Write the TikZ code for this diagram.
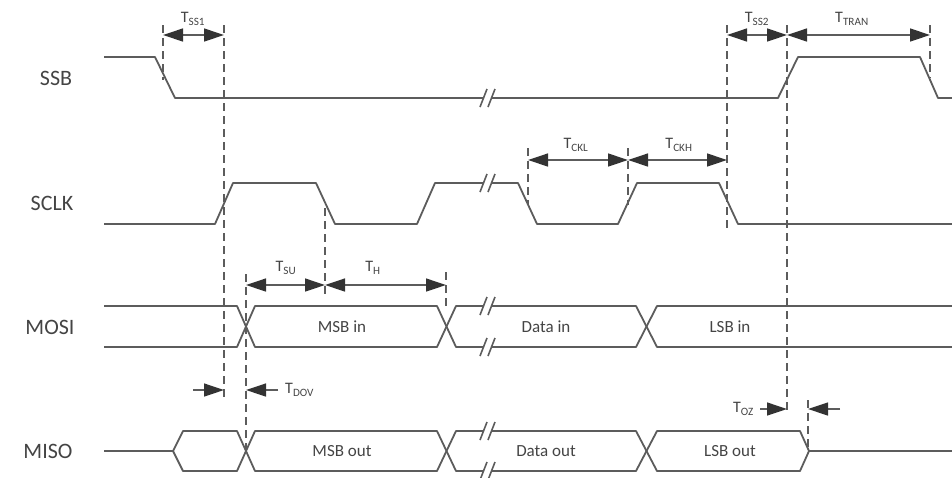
\documentclass[tikz,border=0pt]{standalone}
\usepackage{fontspec}
\setmainfont{Carlito}
\usetikzlibrary{arrows.meta}

\definecolor{linegray}{HTML}{5C5C5C}
\definecolor{tipgray}{HTML}{333333}
\definecolor{txtgray}{HTML}{444444}

% break mark on a line: \brk{x}{y}
\newcommand{\brk}[2]{%
  \fill[white] (#1-3,#2+9) -- (#1+4,#2-9) -- (#1+12,#2-9) -- (#1+5,#2+9) -- cycle;
  \draw[linegray, line width=1.6pt] (#1-3,#2+9) -- (#1+4,#2-9) (#1+5,#2+9) -- (#1+12,#2-9);}

\begin{document}
\begin{tikzpicture}[x=1pt, y=-1pt,
  sig/.style={draw=linegray, line width=1.8pt, line join=round},
  guide/.style={draw=linegray, line width=1.3pt, dash pattern=on 8pt off 5pt},
  dim/.style={{Triangle[length=20pt,width=13pt,color=tipgray]}-{Triangle[length=20pt,width=13pt,color=tipgray]}, draw=linegray, line width=1.3pt},
  pin/.style={-{Triangle[length=20pt,width=13pt,color=tipgray]}, draw=linegray, line width=1.3pt},
  signame/.style={font=\fontsize{22}{24}\selectfont, text=txtgray},
  busdata/.style={font=\fontsize{17}{18}\selectfont, text=txtgray},
  tlab/.style={font=\fontsize{16}{17}\selectfont, text=txtgray, inner sep=0pt}
]
\useasboundingbox (0,0) rectangle (952,477);

% signal names
\node[signame] (nssb) at (56,78) {SSB};
\node[signame] (nsclk) at (52,203) {SCLK};
\node[signame] (nmosi) at (50,327) {MOSI};
\node[signame] (nmiso) at (48,451) {MISO};

% SSB
\draw[sig] (104,57) -- (155,57) -- (175,98) -- (778,98) -- (798,57) -- (920,57) -- (938,98) -- (952,98);
\brk{483}{98}

% SCLK
\draw[sig] (104,224) -- (215,224) -- (233,183) -- (316,183) -- (335,224) -- (417,224) -- (435,183)
  -- (518,183) -- (537,224) -- (618,224) -- (637,183) -- (719,183) -- (738,224) -- (952,224);
\brk{483}{183}

% MOSI
\draw[sig] (104,306) -- (237,306) -- (255,347) -- (437,347) -- (456,306) -- (636,306) -- (657,347) -- (952,347);
\draw[sig] (104,347) -- (237,347) -- (255,306) -- (437,306) -- (456,347) -- (636,347) -- (657,306) -- (952,306);
\brk{483}{306}
\brk{483}{347}
\node[busdata] (msbin) at (342,327) {MSB in};
\node[busdata] (datain) at (546,327) {Data in};
\node[busdata] (lsbin) at (730,327) {LSB in};

% MISO
\draw[sig] (104,451) -- (173,451) -- (183,431) -- (237,431) -- (255,471) -- (437,471) -- (456,431)
  -- (636,431) -- (657,471) -- (800,471) -- (809,451) -- (952,451);
\draw[sig] (173,451) -- (183,471) -- (237,471) -- (255,431) -- (437,431) -- (456,471)
  -- (636,471) -- (657,431) -- (800,431) -- (809,451);
\brk{483}{431}
\brk{483}{471}
\node[busdata] (msbout) at (342,451) {MSB out};
\node[busdata] (dataout) at (546,451) {Data out};
\node[busdata] (lsbout) at (730,451) {LSB out};

% guide lines
\draw[guide] (163,25) -- (163,80);
\draw[guide] (224,25) -- (224,398);
\draw[guide] (528,148) -- (528,205);
\draw[guide] (628,148) -- (628,205);
\draw[guide] (727,25) -- (727,232);
\draw[guide] (787,25) -- (787,410);
\draw[guide] (930,25) -- (930,78);
\draw[guide] (325,208) -- (325,296);
\draw[guide] (246,274) -- (246,452);
\draw[guide] (446,272) -- (446,310);
\draw[guide] (808,400) -- (808,451);

% dimension points
\coordinate (ss1a) at (163,35);  \coordinate (ss1b) at (224,35);
\coordinate (ss2a) at (727,35);  \coordinate (ss2b) at (787,35);
\coordinate (trb) at (930,35);
\coordinate (ckla) at (528,160); \coordinate (cklb) at (628,160);
\coordinate (ckhb) at (727,160);
\coordinate (sua) at (246,285);  \coordinate (sub) at (325,285);
\coordinate (hb) at (446,285);
\coordinate (dova) at (193,390); \coordinate (dovb) at (224,390);
\coordinate (dovc) at (278,390); \coordinate (dovd) at (246,390);
\coordinate (oza) at (760,409);  \coordinate (ozb) at (787,409);
\coordinate (ozc) at (840,409);  \coordinate (ozd) at (808,409);

% dimension arrows
\draw[dim] (ss1a) -- (ss1b);
\draw[dim] (ss2a) -- (ss2b);
\draw[dim] (ss2b) -- (trb);
\draw[dim] (ckla) -- (cklb);
\draw[dim] (cklb) -- (ckhb);
\draw[dim] (sua) -- (sub);
\draw[dim] (sub) -- (hb);
\draw[pin] (dova) -- (dovb);
\draw[pin] (dovc) -- (dovd);
\draw[pin] (oza) -- (ozb);
\draw[pin] (ozc) -- (ozd);

% timing labels
\node[tlab] (tss1) at (193,19) {T\textsubscript{SS1}};
\node[tlab] (tss2) at (757,19) {T\textsubscript{SS2}};
\node[tlab] (ttran) at (852,19) {T\textsubscript{TRAN}};
\node[tlab] (tckl) at (576,145) {T\textsubscript{CKL}};
\node[tlab] (tckh) at (679,145) {T\textsubscript{CKH}};
\node[tlab] (tsu) at (286,268) {T\textsubscript{SU}};
\node[tlab] (th) at (373,268) {T\textsubscript{H}};
\node[tlab, anchor=west] (tdov) at (285,390) {T\textsubscript{DOV}};
\node[tlab, anchor=east] (toz) at (754,409) {T\textsubscript{OZ}};
\end{tikzpicture}
\end{document}
